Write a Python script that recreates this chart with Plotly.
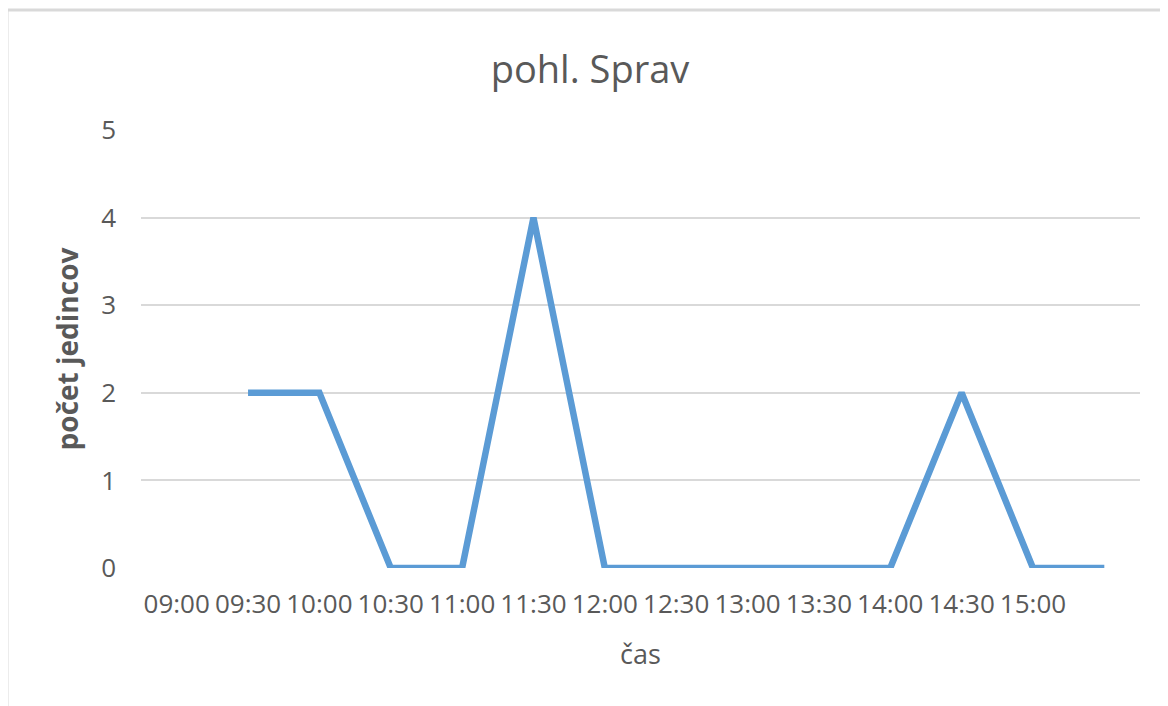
import plotly.graph_objects as go

# chart data
time_labels = ["09:00", "09:30", "10:00", "10:30", "11:00", "11:30", "12:00",
               "12:30", "13:00", "13:30", "14:00", "14:30", "15:00", ""]
counts = [None, 2, 2, 0, 0, 4, 0, 0, 0, 0, 0, 2, 0, 0]
y_ticks = [0, 1, 2, 3, 4, 5]

positions = list(range(len(time_labels)))

# the page body adds an 8px margin, so targets are shifted back by it
OFF = 8
W, H = 1168, 706
L = 141 - OFF
T = 130 - OFF
R = W - (1140 - OFF)
B = H - (568 - OFF)
plot_w = W - L - R
plot_h = H - T - B

text_color = "#595959"
grid_color = "#d9d9d9"
font_family = "Open Sans, Noto Sans, sans-serif"

fig = go.Figure()
fig.add_trace(
    go.Scatter(
        x=positions,
        y=counts,
        mode="lines",
        line=dict(color="#5b9bd5", width=6.5),
        connectgaps=False,
        showlegend=False,
    )
)

fig.update_layout(
    width=W,
    height=H,
    margin=dict(l=L, r=R, t=T, b=B),
    paper_bgcolor="white",
    plot_bgcolor="white",
    font=dict(family=font_family, color=text_color),
    title=dict(
        text="pohl. Sprav",
        x=(590 - OFF) / W,
        xref="container",
        xanchor="center",
        y=1 - (70 - OFF) / H,
        yref="container",
        yanchor="middle",
        font=dict(size=38, color=text_color),
    ),
)

fig.update_xaxes(
    range=[-0.5, len(time_labels) - 0.5],
    tickmode="array",
    tickvals=positions,
    ticktext=time_labels,
    tickfont=dict(size=26, color=text_color),
    ticklabelstandoff=18,
    showgrid=False,
    zeroline=False,
    showline=False,
    title=dict(text="čas", font=dict(size=27, color=text_color), standoff=25),
)

fig.update_yaxes(
    range=[0, 5],
    tickmode="array",
    tickvals=y_ticks,
    tickfont=dict(size=26, color=text_color),
    ticklabelstandoff=24,
    showgrid=True,
    gridcolor=grid_color,
    gridwidth=2,
    zeroline=False,
    showline=False,
    title=dict(text="<b>počet jedincov</b>", font=dict(size=28, color=text_color), standoff=14),
)

# outer chart border (Excel chart frame)
fig.add_shape(
    type="rect",
    xref="paper",
    yref="paper",
    x0=(7 - OFF - L) / plot_w,
    x1=(W + 20 - L) / plot_w,
    y0=(T + plot_h - (H + 20)) / plot_h,
    y1=(T + plot_h - (10 - OFF)) / plot_h,
    line=dict(color=grid_color, width=3),
    layer="below",
)

fig.write_html("out.html")
